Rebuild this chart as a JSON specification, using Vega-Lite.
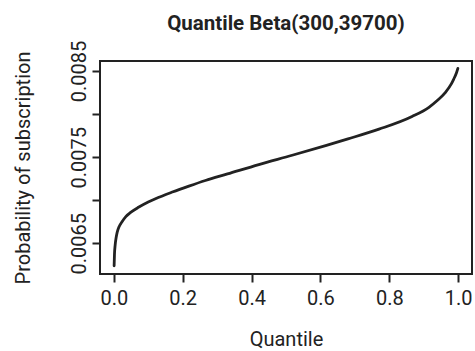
{
  "$schema": "https://vega.github.io/schema/vega-lite/v6.json",
  "width": 372,
  "height": 213,
  "autosize": "none",
  "padding": {"left": 100, "top": 61, "right": 3, "bottom": 77},
  "background": "white",
  "title": {
    "text": "Quantile Beta(300,39700)",
    "font": "Roboto",
    "fontSize": 20.5,
    "fontWeight": "bold",
    "color": "#222222",
    "anchor": "middle",
    "offset": 6
  },
  "config": {
    "view": {"stroke": "#222222", "strokeWidth": 2},
    "axis": {
      "domain": false,
      "grid": false,
      "ticks": true,
      "tickColor": "#222222",
      "tickWidth": 2,
      "tickSize": 8,
      "labelFont": "Roboto",
      "labelFontSize": 20,
      "labelColor": "#222222",
      "titleFont": "Roboto",
      "titleFontSize": 20,
      "titleFontWeight": "normal",
      "titleColor": "#222222"
    }
  },
  "data": {
    "values": [
      {"q": 0.001, "p": 0.00624},
      {"q": 0.002, "p": 0.00637},
      {"q": 0.004, "p": 0.00648},
      {"q": 0.007, "p": 0.00657},
      {"q": 0.01, "p": 0.00663},
      {"q": 0.015, "p": 0.00669},
      {"q": 0.024, "p": 0.00675},
      {"q": 0.035, "p": 0.00681},
      {"q": 0.048, "p": 0.006856},
      {"q": 0.073, "p": 0.006921},
      {"q": 0.1, "p": 0.00698},
      {"q": 0.121, "p": 0.007018},
      {"q": 0.17, "p": 0.007095},
      {"q": 0.218, "p": 0.007164},
      {"q": 0.266, "p": 0.007229},
      {"q": 0.33, "p": 0.007305},
      {"q": 0.421, "p": 0.007414},
      {"q": 0.518, "p": 0.007522},
      {"q": 0.615, "p": 0.007634},
      {"q": 0.68, "p": 0.007712},
      {"q": 0.77, "p": 0.007825},
      {"q": 0.866, "p": 0.007972},
      {"q": 0.915, "p": 0.008079},
      {"q": 0.94, "p": 0.00816},
      {"q": 0.963, "p": 0.008252},
      {"q": 0.98, "p": 0.00835},
      {"q": 0.987, "p": 0.008406},
      {"q": 0.995, "p": 0.00848},
      {"q": 0.999, "p": 0.00853}
    ]
  },
  "mark": {"type": "line", "color": "#222222", "strokeWidth": 2.8, "interpolate": "monotone", "strokeCap": "round"},
  "encoding": {
    "x": {
      "field": "q",
      "type": "quantitative",
      "scale": {"domain": [-0.04, 1.04], "nice": false, "zero": false},
      "axis": {
        "title": "Quantile",
        "values": [0, 0.2, 0.4, 0.6, 0.8, 1.0],
        "format": ".1f",
        "labelPadding": 6,
        "titlePadding": 21,
        "labelFlush": false
      }
    },
    "y": {
      "field": "p",
      "type": "quantitative",
      "scale": {"domain": [0.006144, 0.008616], "nice": false, "zero": false},
      "axis": {
        "title": "Probability of subscription",
        "values": [0.0065, 0.007, 0.0075, 0.008, 0.0085],
        "labelExpr": "(abs(datum.value - 0.007) < 0.00001 || abs(datum.value - 0.008) < 0.00001) ? '' : format(datum.value, '.4f')",
        "labelAngle": -90,
        "labelAlign": "center",
        "labelBaseline": "bottom",
        "labelPadding": 3,
        "labelFlush": false,
        "labelOverlap": false,
        "titlePadding": 36
      }
    }
  }
}
